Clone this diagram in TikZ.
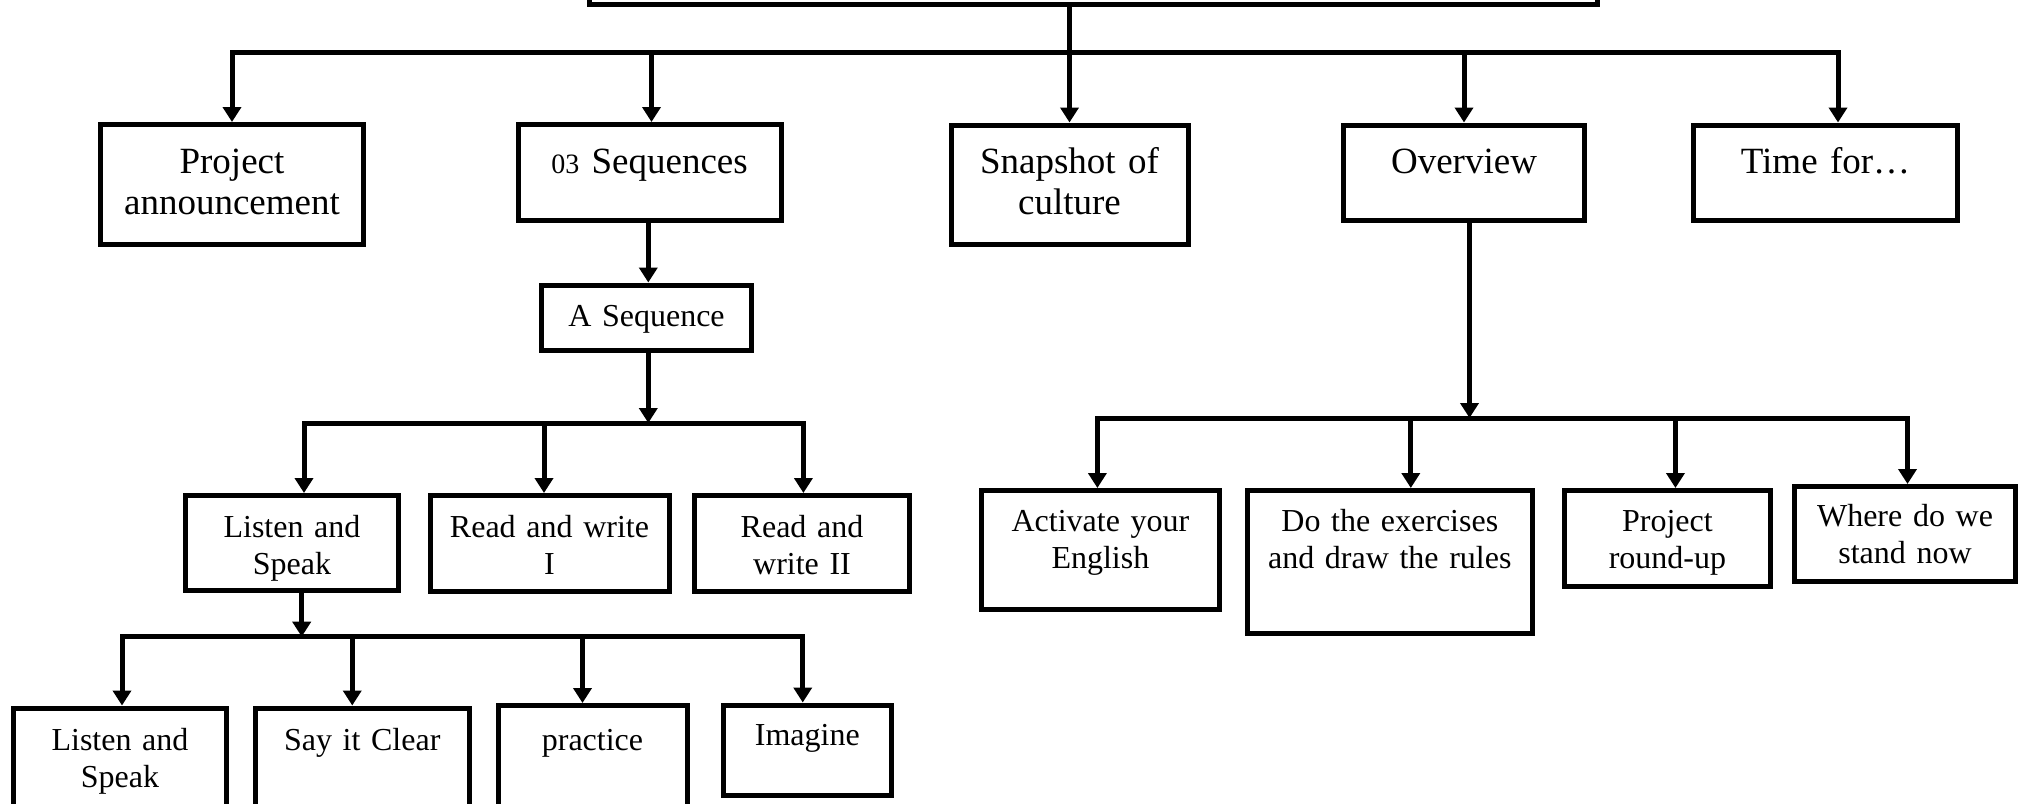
\documentclass[tikz,border=0pt]{standalone}
\usepackage{fontspec}
\setmainfont{Liberation Serif}
\usetikzlibrary{arrows.meta}
\tikzset{
  bx/.style={draw, line width=5pt, inner sep=0pt, align=center},
  big/.style={font=\fontsize{37}{41}\selectfont},
  small/.style={font=\fontsize{32}{37}\selectfont},
  ln/.style={line width=5pt},
  arr/.style={ln, -{Triangle[width=18pt,length=15pt]}}
}
\begin{document}
\begin{tikzpicture}[x=1pt,y=-1pt]
\path[use as bounding box, fill=white] (0,0) rectangle (2025,803);

% top (title) box, mostly outside the frame
\node[bx, text width=1008pt, text height=100pt, text depth=0pt] (title) at (1093.5,-45.5) {};

% first level
\node[bx,big,text width=263pt,text height=48.5pt,text depth=71.5pt] (pa) at (232,184.5) {Project\\announcement};
\node[bx,big,text width=263pt,text height=48.5pt,text depth=47pt] (seq3) at (649.5,172.25) {{\fontsize{28}{41}\selectfont 03} Sequences};
\node[bx,big,text width=237pt,text height=48pt,text depth=71pt] (snap) at (1069.5,184.5) {Snapshot of\\culture};
\node[bx,big,text width=241pt,text height=48pt,text depth=47pt] (over) at (1464,172.5) {Overview};
\node[bx,big,text width=264pt,text height=48pt,text depth=47pt] (time) at (1825.5,172.5) {Time for…};

% A Sequence
\node[bx,small,text width=210pt,text height=41.5pt,text depth=23.5pt] (aseq) at (646.5,317.5) {A Sequence};

% third level
\node[bx,small,text width=213pt,text height=41.5pt,text depth=53pt] (ls1) at (292,542.75) {Listen and\\Speak};
\node[bx,small,text width=239pt,text height=41.5pt,text depth=54pt] (rw1) at (549.5,543.25) {Read and write\\I};
\node[bx,small,text width=215pt,text height=41.5pt,text depth=54pt] (rw2) at (802,543.25) {Read and\\write II};

% fourth level
\node[bx,small,text width=213pt,text height=42pt,text depth=80pt] (ls2) at (120,769) {Listen and\\Speak};
\node[bx,small,text width=213.5pt,text height=42pt,text depth=80pt] (say) at (362.25,769) {Say it Clear};
\node[bx,small,text width=189pt,text height=44.5pt,text depth=80pt] (prac) at (592.5,767.75) {practice};
\node[bx,small,text width=167.7pt,text height=40pt,text depth=50.5pt] (imag) at (807.35,750.25) {Imagine};

% overview children
\node[bx,small,text width=238.2pt,text height=41.2pt,text depth=77.3pt] (act) at (1100.4,549.75) {Activate your\\English};
\node[bx,small,text width=285pt,text height=41.2pt,text depth=101.8pt] (do) at (1389.8,562) {Do the exercises\\and draw the rules};
\node[bx,small,text width=205.5pt,text height=41.2pt,text depth=54.3pt] (proj) at (1667.45,538.25) {Project\\round-up};
\node[bx,small,text width=221pt,text height=40.2pt,text depth=54.8pt] (where) at (1905,534) {Where do we\\stand now};

% connectors: title
\coordinate (j1) at (1069.5,52.5);
\draw[ln] (title.south -| j1) -- (j1);
\draw[arr] (j1) -| (pa.north);
\draw[arr] (j1) -| ([xshift=2pt]seq3.north);
\draw[arr] (j1) -- (snap.north);
\draw[arr] (j1) -| (over.north);
\draw[arr] (j1) -| ([xshift=12.5pt]time.north);

% 03 Sequences -> A Sequence
\draw[arr] ([xshift=-1.2pt]seq3.south) -- ([xshift=-1.2pt]seq3.south |- aseq.north);

% A Sequence -> third level
\coordinate (j2) at (648.3,423);
\draw[arr] (aseq.south -| j2) -- (j2);
\draw[arr] (j2) -| ([xshift=12pt]ls1.north);
\draw[arr] (j2) -| ([xshift=-5.5pt]rw1.north);
\draw[arr] (j2) -| ([xshift=1.4pt]rw2.north);

% Listen and Speak -> fourth level
\coordinate (j3) at (301.7,636.7);
\draw[arr] (ls1.south -| j3) -- (j3);
\draw[arr] (j3) -| ([xshift=2pt]ls2.north);
\draw[arr] (j3) -| ([xshift=-10pt]say.north);
\draw[arr] (j3) -| ([xshift=-10pt]prac.north);
\draw[arr] (j3) -| ([xshift=-4.6pt]imag.north);

% Overview -> children
\coordinate (j4) at (1469.5,418);
\draw[arr] (over.south -| j4) -- (j4);
\draw[arr] (j4) -| ([xshift=-3pt]act.north);
\draw[arr] (j4) -| ([xshift=21pt]do.north);
\draw[arr] (j4) -| ([xshift=8pt]proj.north);
\draw[arr] (j4) -| ([xshift=2.5pt]where.north);
\end{tikzpicture}
\end{document}
